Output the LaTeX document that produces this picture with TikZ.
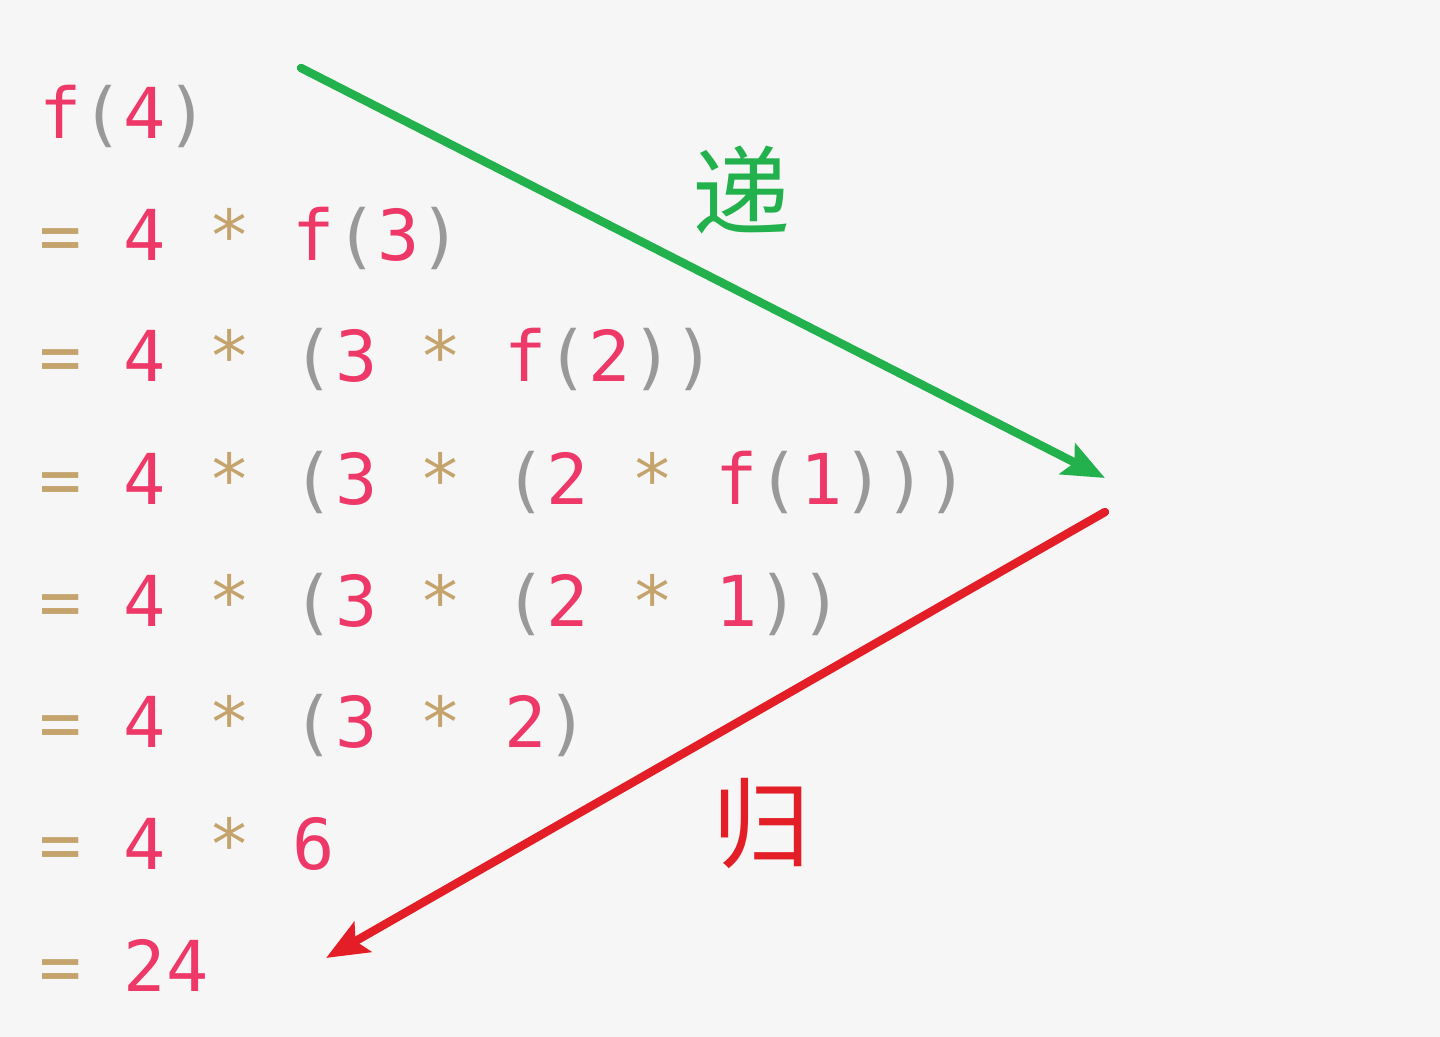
\documentclass[tikz,border=0pt]{standalone}
\usepackage{fontspec}
\newfontfamily\mono{DejaVu Sans Mono}
\newfontfamily\cjk{Noto Sans CJK SC}
\usetikzlibrary{arrows.meta}
\definecolor{bgc}{HTML}{F6F6F6}
\definecolor{pk}{HTML}{EE3868}
\definecolor{gy}{HTML}{999999}
\definecolor{tn}{HTML}{C4A46C}
\definecolor{gr}{HTML}{22B14C}
\definecolor{rd}{HTML}{E41E26}
\newcommand{\cpk}[1]{\textcolor{pk}{#1}}
\newcommand{\cgy}[1]{\textcolor{gy}{#1}}
\newcommand{\ctn}[1]{\textcolor{tn}{#1}}
\begin{document}
\begin{tikzpicture}[x=0.5pt,y=-0.5pt,
  code/.style={anchor=base west,inner sep=0pt,font=\mono\fontsize{35.1pt}{40pt}\selectfont},
  hz/.style={inner sep=0pt,font=\cjk\fontsize{49pt}{52pt}\selectfont},
  arr/.style={line width=4.2pt,line cap=round,-{Stealth[length=21pt,width=17pt,inset=4pt]}}]
\fill[bgc] (0,0) rectangle (1440,1037);
\useasboundingbox (0,0) rectangle (1440,1037);
\node[code] (l1) at (39,139) {\cpk{f}\cgy{(}\cpk{4}\cgy{)}};
\node[code] (l2) at (39,261) {\ctn{=} \cpk{4} \ctn{*} \cpk{f}\cgy{(}\cpk{3}\cgy{)}};
\node[code] (l3) at (39,382) {\ctn{=} \cpk{4} \ctn{*} \cgy{(}\cpk{3} \ctn{*} \cpk{f}\cgy{(}\cpk{2}\cgy{))}};
\node[code] (l4) at (39,504) {\ctn{=} \cpk{4} \ctn{*} \cgy{(}\cpk{3} \ctn{*} \cgy{(}\cpk{2} \ctn{*} \cpk{f}\cgy{(}\cpk{1}\cgy{)))}};
\node[code] (l5) at (39,626) {\ctn{=} \cpk{4} \ctn{*} \cgy{(}\cpk{3} \ctn{*} \cgy{(}\cpk{2} \ctn{*} \cpk{1}\cgy{))}};
\node[code] (l6) at (39,747) {\ctn{=} \cpk{4} \ctn{*} \cgy{(}\cpk{3} \ctn{*} \cpk{2}\cgy{)}};
\node[code] (l7) at (39,869) {\ctn{=} \cpk{4} \ctn{*} \cpk{6}};
\node[code] (l8) at (39,991) {\ctn{=} \cpk{24}};
\coordinate (g1) at (301,68);
\coordinate (g2) at (1105,478);
\coordinate (r1) at (1105,512);
\coordinate (r2) at (326,958);
\draw[arr,gr] (g1) -- (g2);
\draw[arr,rd] (r1) -- (r2);
\node[hz,text=gr] (di) at (741,190) {递};
\node[hz,text=rd] (gui) at (761,823) {归};
\end{tikzpicture}
\end{document}
